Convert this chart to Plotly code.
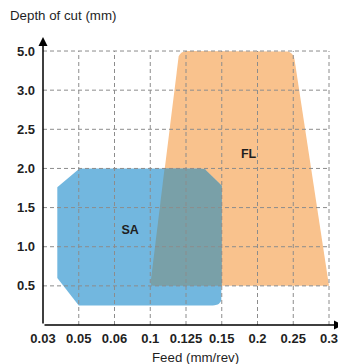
import numpy as np
import plotly.graph_objects as go

# ---- axis tick labels (non-uniformly spaced values shown on an even grid) ----
feed_ticks = [0.03, 0.05, 0.06, 0.1, 0.125, 0.15, 0.2, 0.25, 0.3]
feed_labels = ["0.03", "0.05", "0.06", "0.1", "0.125", "0.15", "0.2", "0.25", "0.3"]
depth_ticks = [0.0, 0.5, 1.0, 1.5, 2.0, 2.5, 3.0, 5.0]
depth_labels = ["", "0.5", "1.0", "1.5", "2.0", "2.5", "3.0", "5.0"]

# ---- application regions (feed mm/rev, depth of cut mm) ----
sa_feed = [0.038, 0.05, 0.1375, 0.15, 0.15, 0.05, 0.038]
sa_depth = [1.76, 2.0, 2.0, 1.78, 0.25, 0.25, 0.6]
sa_round = [0, 3, 3, 0, 9, 0, 0]

fl_feed = [0.1, 0.12, 0.25, 0.3]
fl_depth = [0.5, 5.0, 5.0, 0.5]
fl_round = [4, 9, 9, 0]

region_names = ["SA", "FL"]
label_feed = [0.0775, 0.1875]
label_depth = [1.2, 2.17]

SX, SY = 35.75, 39.14  # px per grid unit (for rounding in screen space)
OFF = 8  # page body margin offset


def fx(v):
    return np.interp(v, feed_ticks, np.arange(len(feed_ticks)))


def fy(v):
    return np.interp(v, depth_ticks, np.arange(len(depth_ticks)))


def rounded(xs, ys, radii):
    pts = np.column_stack([np.array(xs) * SX, np.array(ys) * SY])
    n = len(pts)
    out = []
    for i in range(n):
        V = pts[i]
        r = radii[i]
        if r <= 0:
            out.append(V)
            continue
        P = pts[i - 1]
        N = pts[(i + 1) % n]
        u1 = (P - V) / np.linalg.norm(P - V)
        u2 = (N - V) / np.linalg.norm(N - V)
        A = V + u1 * r
        B = V + u2 * r
        for t in np.linspace(0, 1, 10):
            out.append((1 - t) ** 2 * A + 2 * (1 - t) * t * V + t ** 2 * B)
    out = np.array(out)
    return out[:, 0] / SX, out[:, 1] / SY


def signed_area(poly):
    return 0.5 * sum(poly[i - 1][0] * poly[i][1] - poly[i][0] * poly[i - 1][1] for i in range(len(poly)))


def clip(subject, clipper):
    # Sutherland-Hodgman with a convex clipper
    ccw = signed_area(clipper) > 0
    output = list(subject)
    for i in range(len(clipper)):
        a = clipper[i - 1]
        b = clipper[i]
        inp = output
        output = []
        if not inp:
            break

        def inside(p):
            c = (b[0] - a[0]) * (p[1] - a[1]) - (b[1] - a[1]) * (p[0] - a[0])
            return c >= 0 if ccw else c <= 0

        def inter(p, q):
            x1, y1, x2, y2 = a[0], a[1], b[0], b[1]
            x3, y3, x4, y4 = p[0], p[1], q[0], q[1]
            d = (x1 - x2) * (y3 - y4) - (y1 - y2) * (x3 - x4)
            t = ((x1 - x3) * (y3 - y4) - (y1 - y3) * (x3 - x4)) / d
            return (x1 + t * (x2 - x1), y1 + t * (y2 - y1))

        for j in range(len(inp)):
            cur = inp[j]
            prev = inp[j - 1]
            if inside(cur):
                if not inside(prev):
                    output.append(inter(prev, cur))
                output.append(cur)
            elif inside(prev):
                output.append(inter(prev, cur))
    return output


sa_x, sa_y = rounded(fx(sa_feed), fy(sa_depth), sa_round)
fl_x, fl_y = rounded(fx(fl_feed), fy(fl_depth), fl_round)
ov = clip(list(zip(sa_x, sa_y)), list(zip(fl_x, fl_y)))
ov_x = [p[0] for p in ov]
ov_y = [p[1] for p in ov]

BLUE = "#72b7df"
ORANGE = "#f9c28d"
OVER = "#79a0a8"
TXT = "#1f1f1f"

fig = go.Figure()
fig.add_trace(go.Scatter(x=list(fl_x), y=list(fl_y), fill="toself", fillcolor=ORANGE,
                         mode="lines", line=dict(width=0), hoverinfo="skip"))
fig.add_trace(go.Scatter(x=list(sa_x), y=list(sa_y), fill="toself", fillcolor=BLUE,
                         mode="lines", line=dict(width=0), hoverinfo="skip"))
fig.add_trace(go.Scatter(x=ov_x, y=ov_y, fill="toself", fillcolor=OVER,
                         mode="lines", line=dict(width=0), hoverinfo="skip"))

# dashed grid
nx = len(feed_ticks) - 1
ny = len(depth_ticks) - 1
gx, gy = [], []
for i in range(1, nx + 1):
    gx += [i, i, None]
    gy += [0, ny, None]
for j in range(1, ny + 1):
    gx += [0, nx, None]
    gy += [j, j, None]
fig.add_trace(go.Scatter(x=gx, y=gy, mode="lines",
                         line=dict(color="#8c8c8c", width=1, dash="4px,3px"),
                         hoverinfo="skip"))

# region labels
fig.add_trace(go.Scatter(x=list(fx(label_feed)), y=list(fy(label_depth)), mode="text",
                         text=["<b>%s</b>" % s for s in region_names],
                         textfont=dict(family="Liberation Sans", size=12.5, color=TXT),
                         hoverinfo="skip"))

XMAX = 300 / SX
YMAX = 288 / SY

# page pixel layout: plot area left=43, right=343, top=37, bottom=325 (page has 8px body margin)
L, R, T, B = 43 - OFF, 3, 37 - OFF, 39
W, H = 346 - OFF, 364 - OFF

fig.update_layout(
    width=W, height=H,
    margin=dict(l=L, r=R, t=T, b=B, autoexpand=False),
    paper_bgcolor="white", plot_bgcolor="white",
    showlegend=False,
    font=dict(family="Liberation Sans", color=TXT),
    xaxis=dict(range=[0, XMAX], tickmode="array", tickvals=list(range(len(feed_ticks))),
               ticktext=["<b>%s</b>" % s for s in feed_labels], showgrid=False, zeroline=False,
               showline=False, ticks="", ticklabelstandoff=4, tickfont=dict(size=13, color=TXT),
               fixedrange=True),
    yaxis=dict(range=[0, YMAX], tickmode="array", tickvals=list(range(len(depth_ticks))),
               ticktext=["<b>%s</b>" % s if s else "" for s in depth_labels], showgrid=False,
               zeroline=False, showline=False, ticks="", ticklabelstandoff=7,
               tickfont=dict(size=13, color=TXT), fixedrange=True),
)


def page_to_paper(px, py):
    return (px - 43) / 300, (325 - py) / 288


ax_t = page_to_paper(8, 15)
fx_t = page_to_paper(195, 357)
fig.update_layout(annotations=[
    dict(x=XMAX, y=0, ax=0, ay=0, xref="x", yref="y", axref="x", ayref="y", text="",
         showarrow=True, arrowhead=2, arrowsize=1.2, arrowwidth=1.5, arrowcolor="black", standoff=0),
    dict(x=0, y=YMAX, ax=0, ay=0, xref="x", yref="y", axref="x", ayref="y", text="",
         showarrow=True, arrowhead=2, arrowsize=1.2, arrowwidth=1.5, arrowcolor="black", standoff=0),
    dict(x=ax_t[0], y=ax_t[1], xref="paper", yref="paper", text="Depth of cut (mm)", showarrow=False,
         xanchor="left", yanchor="middle", font=dict(size=13.3, color=TXT)),
    dict(x=fx_t[0], y=fx_t[1], xref="paper", yref="paper", text="Feed (mm/rev)", showarrow=False,
         xanchor="center", yanchor="middle", font=dict(size=13.3, color=TXT)),
])

fig.write_html("out.html")
